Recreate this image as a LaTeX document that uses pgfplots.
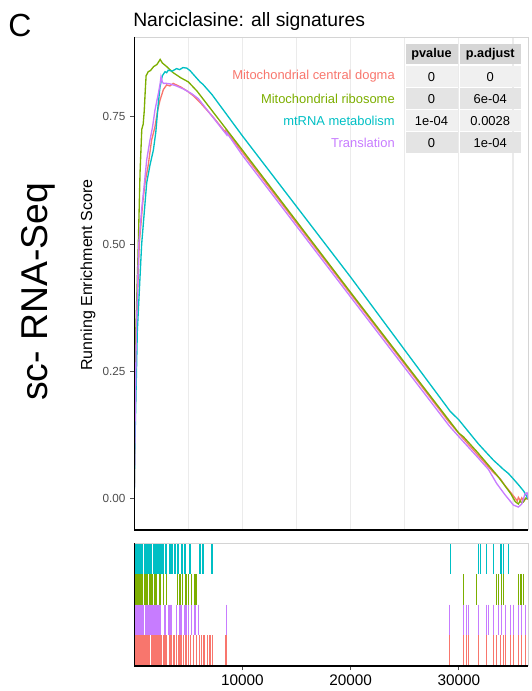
\documentclass[border=0pt]{standalone}
\usepackage{pgfplots}
\pgfplotsset{compat=1.18}
\usepackage{fontspec}
\setmainfont{Liberation Sans}

\definecolor{gred}{HTML}{F8766D}
\definecolor{ggreen}{HTML}{7CAE00}
\definecolor{gcyan}{HTML}{00BFC4}
\definecolor{gpurple}{HTML}{C77CFF}
\definecolor{gridgray}{HTML}{EBEBEB}
\definecolor{bordergray}{HTML}{D4D4D4}
\definecolor{ticktext}{HTML}{4D4D4D}
\definecolor{headfill}{HTML}{D6D6D6}
\definecolor{rowa}{HTML}{F0F0F0}
\definecolor{rowb}{HTML}{E4E4E4}

\newcommand{\fs}[1]{\fontsize{#1}{#1}\selectfont}

% hit rug style: a vertical bar from the row top down one unit
\pgfplotsset{
  hits/.style={draw=none, mark=none,
    error bars/.cd, y dir=minus, y fixed=1, error mark=none,
    error bar style={draw=#1, line width=0.85pt, solid}},
}

\begin{document}
\begin{tikzpicture}
\useasboundingbox (0,0) rectangle (398.25pt,-518.25pt);

% running enrichment score
\begin{axis}[
  at={(100.65pt,-27.75pt)}, anchor=north west,
  width=295.6pt, height=369.75pt, scale only axis,
  xmin=0, xmax=36420, ymin=-0.061, ymax=0.906,
  axis line style={draw=none},
  xtick={5000,10000,...,35000}, xticklabels={},
  scaled x ticks=false,
  x tick style={draw=none},
  xmajorgrids, major grid style={gridgray, line width=0.9pt},
  ytick={0,0.25,0.5,0.75}, yticklabels={0.00,0.25,0.50,0.75},
  ytick pos=left, tick align=outside, major tick length=3pt,
  y tick style={ticktext, line width=0.7pt},
  yticklabel style={font=\fs{8.8}, text=ticktext},
  every axis plot/.append style={line width=1pt},
]
\addplot[gred] coordinates {
 (0,0) (80,0.15) (200,0.33) (470,0.50) (785,0.58) (1000,0.62) (1300,0.655)
 (1610,0.704) (1920,0.73) (2150,0.76) (2385,0.782) (2700,0.803) (3000,0.812)
 (3300,0.810) (3600,0.815) (4300,0.808) (4900,0.800) (5500,0.790) (6200,0.775)
 (7250,0.750) (8484,0.718) (8490,0.722) (10000,0.680) (20000,0.402)
 (29120,0.150) (30416,0.118) (31802,0.085) (33188,0.052) (33807,0.040)
 (34269,0.026) (34731,0.014) (35036,0.006) (35400,-0.004) (35499,0.003)
 (35700,-0.004) (35813,0.002) (36000,-0.004) (36118,0.000) (36420,0)
};
\addplot[ggreen] coordinates {
 (0,0) (60,0.15) (150,0.33) (380,0.50) (540,0.64) (700,0.725) (830,0.735)
 (925,0.76) (1020,0.80) (1100,0.83) (1300,0.838) (1500,0.84) (1800,0.848)
 (2100,0.852) (2400,0.862) (2600,0.855) (3000,0.848) (3600,0.836)
 (4300,0.826) (5000,0.818) (5800,0.800) (10000,0.684) (20000,0.405)
 (30000,0.129) (30416,0.122) (31654,0.093) (33503,0.047) (34112,0.030)
 (34800,0.010) (35200,-0.005) (35499,-0.010) (35656,-0.004) (35813,-0.008)
 (35961,-0.006) (36200,0.002) (36420,0)
};
\addplot[gcyan] coordinates {
 (0,0) (60,0.10) (290,0.33) (690,0.50) (1000,0.58) (1155,0.62) (1460,0.655)
 (1770,0.684) (2000,0.72) (2200,0.77) (2385,0.808) (2600,0.83) (2850,0.838)
 (3000,0.836) (3150,0.841) (3500,0.839) (3925,0.844) (4200,0.842)
 (4500,0.846) (4850,0.845) (5160,0.840) (6080,0.818) (6360,0.813)
 (7190,0.793) (10000,0.712) (20000,0.435) (29190,0.172) (30000,0.155)
 (31800,0.108) (32580,0.090) (33190,0.076) (33810,0.064) (34110,0.058)
 (34574,0.050) (35000,0.040) (35500,0.028) (36000,0.015) (36300,0.004)
 (36420,0)
};
\addplot[gpurple] coordinates {
 (0,0) (80,0.15) (200,0.33) (420,0.50) (700,0.57) (900,0.61) (1155,0.665)
 (1460,0.704) (1700,0.73) (1922,0.763) (2230,0.795) (2400,0.815)
 (2477,0.828) (2600,0.818) (2693,0.815) (3000,0.815) (3309,0.814)
 (3900,0.810) (4540,0.804) (5300,0.795) (5924,0.785) (8549,0.714)
 (8555,0.718) (10000,0.674) (20000,0.396) (29120,0.143) (30000,0.122)
 (31802,0.080) (32726,0.058) (33503,0.030) (34269,0.008) (34731,-0.004)
 (35036,-0.012) (35499,-0.016) (35813,-0.010) (36118,0.010) (36300,0.012)
 (36420,0)
};
\end{axis}

% gene hit positions, one row per signature
\begin{axis}[
  at={(100.65pt,-407.25pt)}, anchor=north west,
  width=295.6pt, height=92.25pt, scale only axis,
  xmin=0, xmax=36420, ymin=0, ymax=4,
  axis line style={draw=none},
  ytick=\empty,
  xtick={10000,20000,30000}, xticklabels={10000,20000,30000},
  scaled x ticks=false,
  xtick pos=bottom, tick align=outside, major tick length=3pt,
  x tick style={ticktext, line width=0.7pt},
  xticklabel style={font=\fs{11.5}, text=black},
]
\addplot[hits=gcyan] coordinates {
 (40,4) (130,4) (220,4) (310,4) (400,4) (490,4) (580,4) (670,4) (760,4)
 (940,4) (1030,4) (1120,4) (1210,4) (1300,4) (1390,4) (1480,4) (1570,4)
 (1750,4) (1840,4) (1930,4) (2020,4) (2110,4) (2200,4) (2380,4) (2470,4)
 (2560,4) (2650,4) (2740,4) (2920,4) (3010,4) (3310,4) (3490,4) (3770,4)
 (4050,4) (4420,4) (4700,4) (5160,4) (6080,4) (6360,4) (7190,4)
 (29190,4) (31800,4) (31960,4) (32580,4) (33190,4) (33810,4) (33960,4)
 (34110,4) (34570,4)
};
\addplot[hits=ggreen] coordinates {
 (40,3) (130,3) (220,3) (310,3) (400,3) (490,3) (580,3) (670,3) (760,3)
 (930,3) (1020,3) (1110,3) (1200,3) (1390,3) (1480,3) (1570,3) (1660,3)
 (1850,3) (1920,3) (2080,3) (2385,3) (2690,3) (3000,3) (3985,3) (4233,3)
 (4482,3) (4787,3) (5000,3) (5314,3) (5620,3) (5776,3)
 (30416,3) (31654,3) (33503,3) (33651,3) (33964,3) (34112,3) (35499,3)
 (35656,3) (35813,3) (35961,3)
};
\addplot[hits=gpurple] coordinates {
 (40,2) (130,2) (220,2) (310,2) (400,2) (490,2) (580,2) (670,2) (760,2)
 (850,2) (1090,2) (1180,2) (1270,2) (1360,2) (1450,2) (1540,2) (1630,2)
 (1720,2) (1810,2) (1900,2) (1990,2) (2080,2) (2170,2) (2260,2) (2385,2)
 (2846,2) (3152,2) (3309,2) (3466,2) (3928,2) (4233,2) (4390,2) (4695,2)
 (4852,2) (5000,2) (5314,2) (5620,2) (5924,2) (8549,2)
 (29120,2) (30416,2) (30730,2) (30878,2) (31802,2) (32578,2) (32726,2)
 (33188,2) (33651,2) (33964,2) (34269,2) (34731,2) (35036,2) (35499,2)
 (35813,2) (36118,2)
};
\addplot[hits=gred] coordinates {
 (40,1) (130,1) (220,1) (310,1) (400,1) (490,1) (580,1) (670,1) (760,1)
 (850,1) (940,1) (1030,1) (1120,1) (1210,1) (1300,1) (1390,1) (1570,1)
 (1660,1) (1750,1) (1840,1) (1930,1) (2020,1) (2110,1) (2200,1) (2290,1)
 (2385,1) (2539,1) (2693,1) (2847,1) (3001,1) (3309,1) (3463,1) (3678,1)
 (3925,1) (4140,1) (4325,1) (4541,1) (4787,1) (5003,1) (5219,1) (5465,1)
 (5773,1) (6019,1) (6236,1) (6451,1) (6759,1) (7005,1) (7252,1) (8484,1)
 (29120,1) (30416,1) (30730,1) (30878,1) (31802,1) (32578,1) (33188,1)
 (33503,1) (33807,1) (34112,1) (34269,1) (34731,1) (35036,1) (35499,1)
 (35813,1) (36118,1)
};
\end{axis}

% frames, table and text, in pixel units of the reference
\begin{scope}[x=0.75pt, y=-0.75pt]
  \draw[bordergray, line width=0.6pt] (134.2,37) -- (528.3,37) -- (528.3,530);
  \draw[black, line width=0.8pt] (134.2,37) -- (134.2,530) -- (528.3,530);
  \draw[bordergray, line width=0.6pt] (134.2,543) -- (528.3,543) -- (528.3,666);
  \draw[black, line width=0.8pt] (134.2,543) -- (134.2,666) -- (528.3,666);

  % table
  \fill[headfill] (405.5,44.5) rectangle (457.5,64.5);
  \fill[headfill] (459.5,44.5) rectangle (521,64.5);
  \foreach \c/\f in {76.6/rowa, 98.7/rowb, 120.8/rowa, 142.9/rowb} {
    \fill[\f] (405.5,\c-10.5) rectangle (457.5,\c+10.5);
    \fill[\f] (459.5,\c-10.5) rectangle (521,\c+10.5);
  }
  \begin{scope}[every node/.style={font=\fs{9.7}, inner sep=0pt}]
    \node[font=\fs{9.5}\bfseries] at (431.5,54.5) {pvalue};
    \node[font=\fs{9.5}\bfseries] at (490.25,54.5) {p.adjust};
    \node[anchor=east, text=gred] at (395,76.6) {Mitochondrial central dogma};
    \node[anchor=east, text=ggreen] at (395,98.7) {Mitochondrial ribosome};
    \node[anchor=east, text=gcyan] at (395,120.8) {mtRNA metabolism};
    \node[anchor=east, text=gpurple] at (395,142.9) {Translation};
    \node at (431.5,76.6) {0};      \node at (490.25,76.6) {0};
    \node at (431.5,98.7) {0};      \node at (490.25,98.7) {6e-04};
    \node at (431.5,120.8) {1e-04}; \node at (490.25,120.8) {0.0028};
    \node at (431.5,142.9) {0};     \node at (490.25,142.9) {1e-04};
  \end{scope}

  \node[anchor=base west, inner sep=0pt, font=\fs{14.5}] at (133,26.7)
    {Narciclasine: all signatures};
  \node[rotate=90, inner sep=0pt, font=\fs{12}] at (88,275)
    {Running Enrichment Score};
  \node[inner sep=0pt, font=\fs{24}] at (20,25) {C};
  \node[rotate=90, inner sep=0pt, font=\fs{28}] at (38,292) {sc- RNA-Seq};
\end{scope}
\end{tikzpicture}
\end{document}
